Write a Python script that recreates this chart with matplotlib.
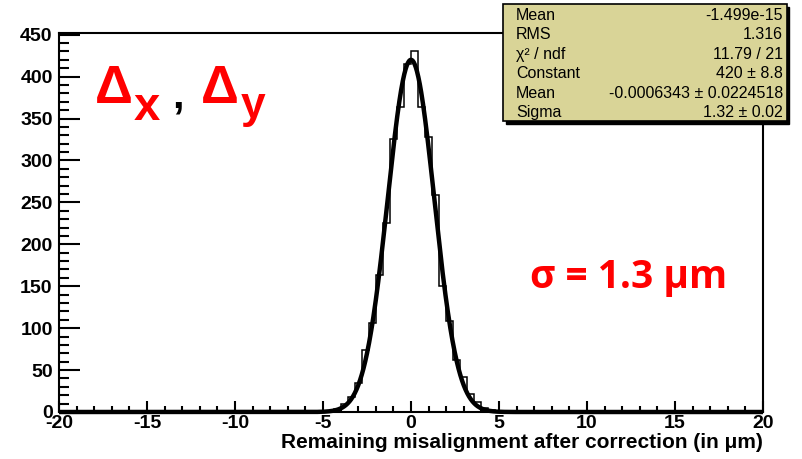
#-*- coding: utf-8 -*-
# Residual misalignment histogram with gaussian fit (ROOT-style look)

import numpy as np
import matplotlib.pyplot as plt
from matplotlib.patches import Rectangle
from matplotlib.ticker import MultipleLocator

plt.rcParams['axes.unicode_minus'] = False

# ======================================================================
#                               Data
# ======================================================================
# histogram: 100 bins of 0.4 um from -20 to 20, only the central bins are filled
bin_edges = np.linspace(-20.0, 20.0, 101)
first_bin = -4.8          # low edge of first non-empty bin
counts_center = [1, 3, 10, 18, 34, 74, 106, 163, 225, 325, 364, 415,
                 431, 364, 328, 259, 150, 108, 62, 42, 22, 12, 5, 2, 1]

# fit result (gaus)
fit_const = 420.0
fit_mean = -0.0006343
fit_sigma = 1.32

# stat box rows
stat_names = ['Mean', 'RMS', '\u03c7\u00b2 / ndf', 'Constant', 'Mean', 'Sigma']
stat_values = ['-1.499e-15', '1.316', '11.79 / 21', '420 \u00b1 8.8',
               '-0.0006343 \u00b1 0.0224518', '1.32 \u00b1 0.02']

xlabel = 'Remaining misalignment after correction (in \u03bcm)'

# ======================================================================
#                               Plot
# ======================================================================
W, H = 803, 459
fig = plt.figure(figsize=(W/100.0, H/100.0), dpi=100)
fig.patch.set_facecolor('white')

def fx(px):
	return px/float(W)

def fy(py):
	return 1.0 - py/float(H)

ax = fig.add_axes([fx(59), fy(412), fx(763) - fx(59), fy(33) - fy(412)])

counts = np.zeros(len(bin_edges) - 1)
i0 = int(round((first_bin - bin_edges[0])/0.4))
counts[i0:i0 + len(counts_center)] = counts_center

ax.stairs(counts, bin_edges, color='black', lw=1.1)

xf = np.linspace(-20, 20, 2001)
yf = fit_const*np.exp(-0.5*((xf - fit_mean)/fit_sigma)**2)
ax.plot(xf, yf, color='black', lw=3.2, solid_capstyle='butt', clip_on=False)

ax.set_xlim(-20, 20)
ax.set_ylim(0, 452)

for s in ax.spines.values():
	s.set_linewidth(1.5)

tfont = {'family': 'Liberation Sans', 'weight': 'bold', 'size': 14}
ax.xaxis.set_major_locator(MultipleLocator(5))
ax.xaxis.set_minor_locator(MultipleLocator(1))
ax.yaxis.set_major_locator(MultipleLocator(50))
ax.yaxis.set_minor_locator(MultipleLocator(10))
ax.tick_params(axis='x', which='major', direction='in', length=8, width=1.5, pad=2)
ax.tick_params(axis='x', which='minor', direction='in', length=4.5, width=1.5)
ax.tick_params(axis='y', which='major', direction='in', length=15, width=1.5, pad=4.5)
ax.tick_params(axis='y', which='minor', direction='in', length=7, width=1.5)
for lab in ax.get_xticklabels() + ax.get_yticklabels():
	lab.set_fontproperties(tfont)

ax.set_xlabel(xlabel, loc='right', labelpad=1, family='Liberation Sans',
              weight='bold', size=15)

# ======================================================================
#                            Annotations
# ======================================================================
red = '#ff0000'
bold = 'Liberation Sans'
fig.text(fx(95), fy(103), '\u0394', color=red, fontsize=38, family=bold,
         weight='bold', va='baseline')
fig.text(fx(134), fy(120), 'x', color=red, fontsize=34, family=bold,
         weight='heavy', va='baseline')
fig.text(fx(172), fy(108), ',', color='black', fontsize=30, family=bold,
         weight='bold', va='baseline')
fig.text(fx(201), fy(103), '\u0394', color=red, fontsize=38, family=bold,
         weight='bold', va='baseline')
fig.text(fx(241), fy(118), 'y', color=red, fontsize=32, family=bold,
         weight='heavy', va='baseline')

fig.text(fx(530), fy(288), '\u03c3 = 1.3 \u03bcm', color=red, fontsize=28,
         family='Open Sans', weight='bold', va='baseline')

# stat box
fig.patches.append(Rectangle((fx(506), fy(124)), fx(789) - fx(506), fy(7) - fy(124),
                             transform=fig.transFigure, facecolor='black',
                             edgecolor='black', zorder=5))
fig.patches.append(Rectangle((fx(503), fy(121)), fx(787) - fx(503), fy(4) - fy(121),
                             transform=fig.transFigure, facecolor='#d9d497',
                             edgecolor='black', lw=1.2, zorder=6))
row_y = [20, 39, 59, 78, 98, 117]   # baselines
for name, val, yy in zip(stat_names, stat_values, row_y):
	fig.text(fx(516), fy(yy), name, fontsize=11.5, family='Liberation Sans',
	         va='baseline', ha='left', zorder=7)
	fig.text(fx(783), fy(yy), val, fontsize=11.5, family='Liberation Sans',
	         va='baseline', ha='right', zorder=7)

fig.savefig('out.png', dpi=100)
